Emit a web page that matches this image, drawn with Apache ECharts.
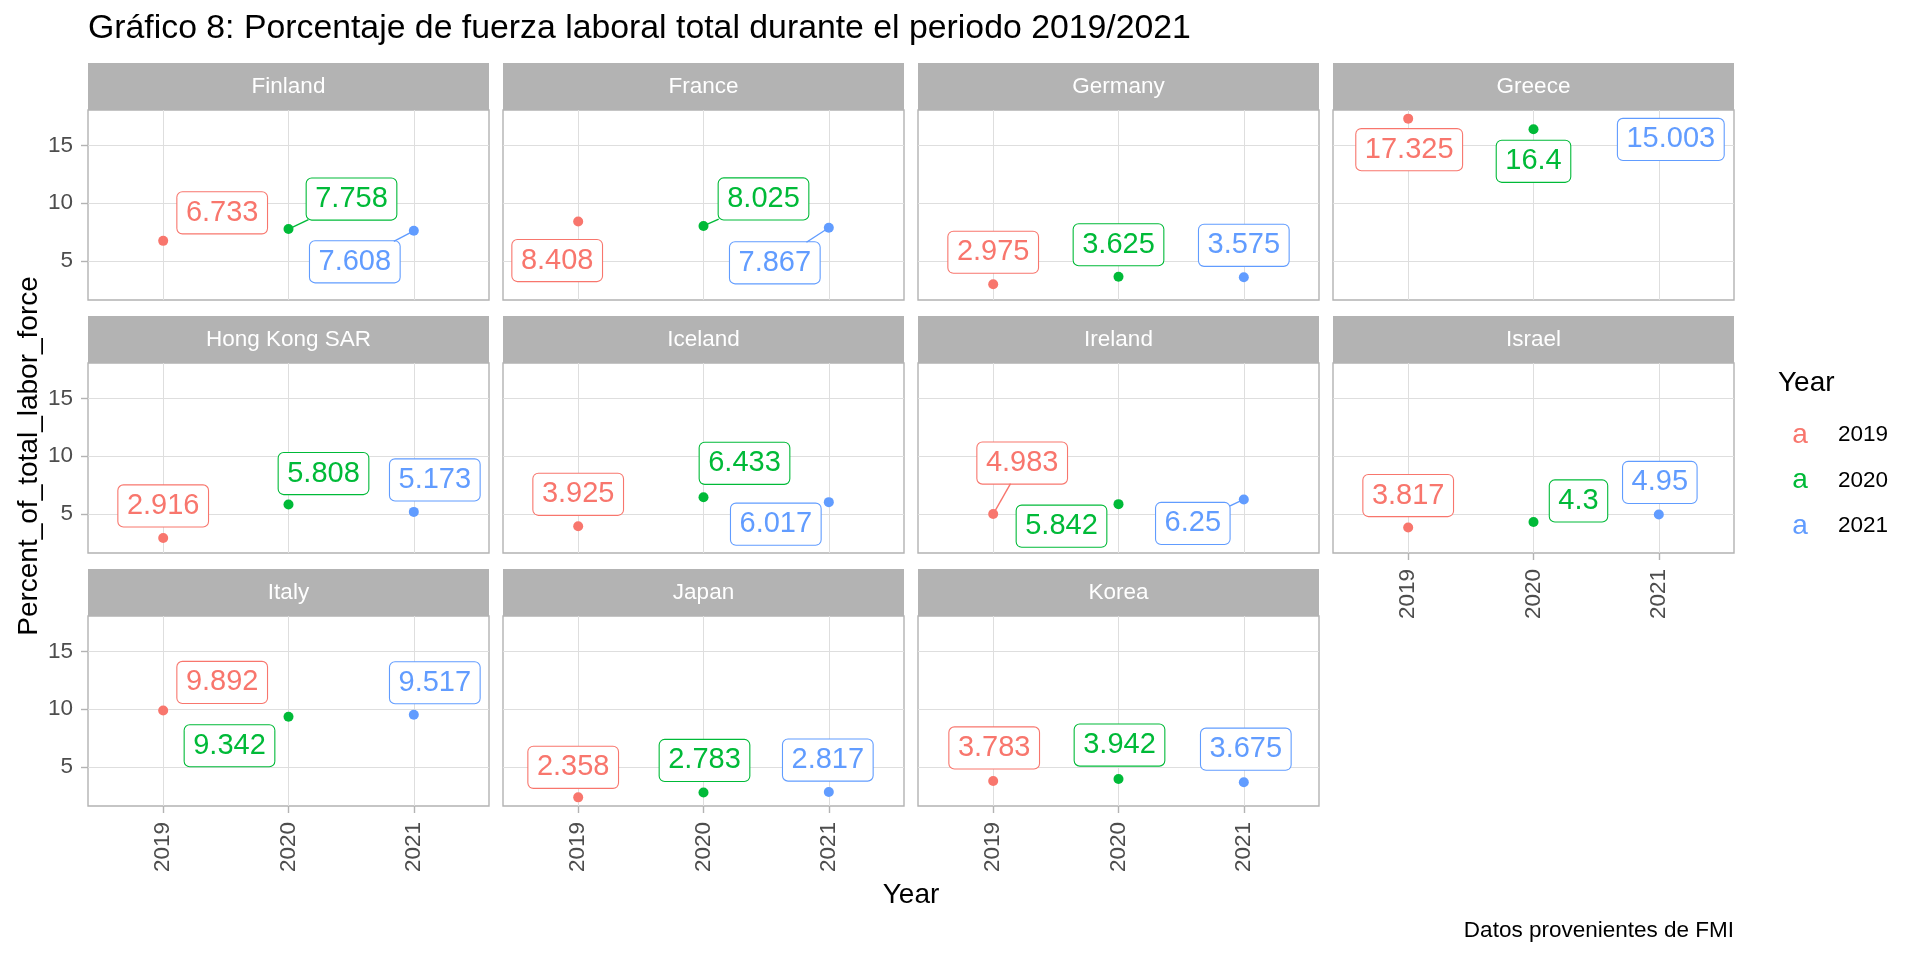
<!DOCTYPE html>
<html><head><meta charset="utf-8">
<script src="https://cdn.jsdelivr.net/npm/echarts@6/dist/echarts.min.js"></script>
<style>html,body{margin:0;padding:0;background:#fff}#chart{width:1920px;height:960px}</style>
</head><body><div id="chart"></div>
<script>
// ---------------- data ----------------
const countries = ['Finland','France','Germany','Greece','Hong Kong SAR','Iceland','Ireland','Israel','Italy','Japan','Korea'];
const years = ['2019','2020','2021'];
const v2019 = [6.733, 8.408, 2.975, 17.325, 2.916, 3.925, 4.983, 3.817, 9.892, 2.358, 3.783];
const v2020 = [7.758, 8.025, 3.625, 16.4, 5.808, 6.433, 5.842, 4.3, 9.342, 2.783, 3.942];
const v2021 = [7.608, 7.867, 3.575, 15.003, 5.173, 6.017, 6.25, 4.95, 9.517, 2.817, 3.675];
const yTickLabels = [5, 10, 15];
const yGridValues = [2.5, 5, 7.5, 10, 12.5, 15, 17.5];
const titleText = 'Gráfico 8: Porcentaje de fuerza laboral total durante el periodo 2019/2021';
const xTitle = 'Year';
const yTitle = 'Percent_of_total_labor_force';
const legendTitle = 'Year';
const captionText = 'Datos provenientes de FMI';

// ---------------- styling / label placement (not data) ----------------
const colors = ['#F8766D', '#00BA38', '#619CFF'];
const nudge2019 = [[59,-28],[-21,39],[0,-32],[1,31],[0,-32],[0,-32],[29,-51],[0,-32],[59,-28],[-5,-30],[1,-33]];
const nudge2020 = [[63,-30],[60,-27],[0,-32],[0,32],[35,-31],[41,-34],[-57,22],[45,-21],[-59,29],[1,-32],[1,-34]];
const nudge2021 = [[-59,31],[-54,35],[0,-32],[12,-6],[21,-32],[-53,22],[-51,24],[1,-32],[21,-32],[-1,-32],[2,-33]];
const seg2019 = [0,0,0,0,0,0,1,0,0,0,0];
const seg2020 = [1,1,0,0,0,0,0,0,0,0,0];
const seg2021 = [1,1,0,0,0,0,1,0,0,0,0];

const FONT = "'Liberation Sans', Arial, sans-serif";
const LABEL_FS = 29, LABEL_PAD = [8, 8.5, 7, 8.5], LABEL_LH = 26;
const L = {left0: 88, colStep: 415, w: 401, top0: 110, rowStep: 253, h: 190, strip: 47, ncol: 4};

const values = [v2019, v2020, v2021];
const nudges = [nudge2019, nudge2020, nudge2021];
const segs = [seg2019, seg2020, seg2021];

const all = v2019.concat(v2020, v2021);
const dmin = Math.min(...all), dmax = Math.max(...all);
const pad = (dmax - dmin) * 0.05;
const yMin = dmin - pad, yMax = dmax + pad;
const xVals = years.map(Number);

const grids = [], xAxes = [], yAxes = [], series = [], graphics = [];
countries.forEach((name, i) => {
  const c = i % L.ncol, r = Math.floor(i / L.ncol);
  const left = L.left0 + c * L.colStep, top = L.top0 + r * L.rowStep;
  grids.push({left: left, top: top, width: L.w, height: L.h, show: true,
    backgroundColor: '#fff', borderColor: '#B3B3B3', borderWidth: 1.4, containLabel: false});
  const showX = i + L.ncol >= countries.length;
  const showY = c === 0;
  xAxes.push({gridIndex: i, type: 'value', min: xVals[0] - 0.6, max: xVals[2] + 0.6,
    axisLine: {show: false},
    axisTick: {show: showX, length: 7, customValues: xVals, lineStyle: {color: '#B3B3B3', width: 1.4}},
    axisLabel: {show: showX, customValues: xVals, rotate: 90, margin: 16, color: '#4D4D4D',
      fontSize: 22.5, fontFamily: FONT, formatter: v => String(v)},
    splitLine: {show: true, customValues: xVals, lineStyle: {color: '#DEDEDE', width: 1}}
  });
  yAxes.push({gridIndex: i, type: 'value', min: yMin, max: yMax,
    axisLine: {show: false},
    axisTick: {show: showY, length: 7, customValues: yTickLabels, lineStyle: {color: '#B3B3B3', width: 1.4}},
    axisLabel: {show: showY, customValues: yTickLabels, margin: 15, color: '#4D4D4D',
      fontSize: 22.5, fontFamily: FONT},
    splitLine: {show: true, customValues: yGridValues, lineStyle: {color: '#DEDEDE', width: 1}}
  });
  graphics.push({type: 'rect', shape: {x: left, y: top - L.strip, width: L.w, height: L.strip},
    style: {fill: '#B3B3B3'}, silent: true});
  graphics.push({type: 'text', x: left + L.w / 2, y: top - L.strip / 2,
    style: {text: name, fill: '#fff', font: '22.5px ' + FONT, textAlign: 'center', textVerticalAlign: 'middle'}, silent: true});
  years.forEach((yr, k) => {
    const col = colors[k];
    series.push({
      type: 'scatter', name: yr, xAxisIndex: i, yAxisIndex: i,
      symbolSize: 10, itemStyle: {color: col, opacity: 1},
      data: [[xVals[k], values[k][i]]],
      label: {show: true, position: 'inside', formatter: p => String(p.value[1]),
        fontSize: LABEL_FS, fontFamily: FONT, color: col, backgroundColor: '#fff',
        borderColor: col, borderWidth: 1.1, borderRadius: 5, padding: LABEL_PAD, lineHeight: LABEL_LH},
      labelLayout: {dx: nudges[k][i][0], dy: nudges[k][i][1]},
      emphasis: {disabled: true},
      z: 3
    });
  });
});

graphics.push({type: 'text', x: 88, y: 29, style: {text: titleText, fill: '#000', font: '33.8px ' + FONT, textAlign: 'left', textVerticalAlign: 'middle'}});
graphics.push({type: 'text', x: L.left0 + ((L.ncol - 1) * L.colStep + L.w) / 2, y: 895, style: {text: xTitle, fill: '#000', font: '28px ' + FONT, textAlign: 'center', textVerticalAlign: 'middle'}});
graphics.push({type: 'text', x: 29, y: 456, rotation: Math.PI / 2,
  style: {text: yTitle, fill: '#000', font: '28px ' + FONT, textAlign: 'center', textVerticalAlign: 'middle'}});
graphics.push({type: 'text', x: L.left0 + (L.ncol - 1) * L.colStep + L.w, y: 931, style: {text: captionText, fill: '#000', font: '22.5px ' + FONT, textAlign: 'right', textVerticalAlign: 'middle'}});
graphics.push({type: 'text', x: 1778, y: 383, style: {text: legendTitle, fill: '#000', font: '28px ' + FONT, textAlign: 'left', textVerticalAlign: 'middle'}});

const rich = {t: {color: '#000', fontSize: 22.5, fontFamily: FONT, padding: [0, 0, 0, 16]}};
years.forEach((yr, k) => { rich['k' + yr] = {color: colors[k], fontSize: 28, fontFamily: FONT, width: 44, align: 'center'}; });

const chart = echarts.init(document.getElementById('chart'), null, {renderer: 'canvas'});
chart.setOption({
  animation: false,
  backgroundColor: '#fff',
  grid: grids, xAxis: xAxes, yAxis: yAxes, series: series,
  legend: {orient: 'vertical', left: 1773, top: 420, padding: 0, itemWidth: 0, itemHeight: 30, itemGap: 16.5,
    icon: 'none', data: years, formatter: name => `{k${name}|a}{t|${name}}`, textStyle: {rich: rich}},
  graphic: graphics
});

// repel-style segments: from each point toward its label centre, clipped at the label box
const ctx = document.createElement('canvas').getContext('2d');
ctx.font = LABEL_FS + 'px ' + FONT;
const segGraphics = [];
countries.forEach((name, i) => {
  years.forEach((yr, k) => {
    if (!segs[k][i]) return;
    const p = chart.convertToPixel({gridIndex: i}, [xVals[k], values[k][i]]);
    const tw = ctx.measureText(String(values[k][i])).width;
    const hw = (tw + LABEL_PAD[1] + LABEL_PAD[3]) / 2;
    const hh = (LABEL_LH + LABEL_PAD[0] + LABEL_PAD[2]) / 2;
    const dx = nudges[k][i][0], dy = nudges[k][i][1];
    const q = [p[0] + dx, p[1] + dy];
    const s = Math.min(dx ? hw / Math.abs(dx) : Infinity, dy ? hh / Math.abs(dy) : Infinity, 1);
    const e = [q[0] - dx * s, q[1] - dy * s];
    segGraphics.push({type: 'line', z: 50, silent: true,
      shape: {x1: p[0], y1: p[1], x2: e[0], y2: e[1]},
      style: {stroke: colors[k], lineWidth: 1.4}});
  });
});
chart.setOption({graphic: graphics.concat(segGraphics)});
</script></body></html>
